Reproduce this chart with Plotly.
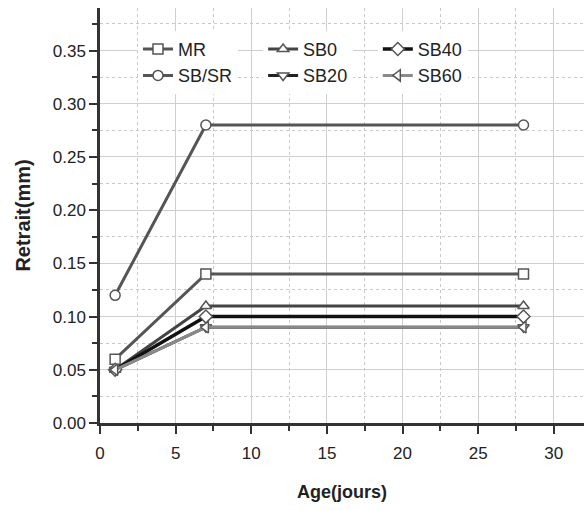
import plotly.graph_objects as go

# Age (days) and shrinkage (mm) per mix
age = [1, 7, 28]
series_names = ["MR", "SB/SR", "SB0", "SB20", "SB40", "SB60"]
mr = [0.06, 0.14, 0.14]
sb_sr = [0.12, 0.28, 0.28]
sb0 = [0.05, 0.11, 0.11]
sb20 = [0.05, 0.09, 0.09]
sb40 = [0.05, 0.10, 0.10]
sb60 = [0.05, 0.09, 0.09]

values = [mr, sb_sr, sb0, sb20, sb40, sb60]
symbols = ["square", "circle", "triangle-up",
           "triangle-down", "diamond", "triangle-left"]
colors = ["#555555", "#555555", "#444444", "#222222", "#111111", "#8a8a8a"]
widths = [3, 3, 3, 3, 3.5, 3]
# legend column for each series (two entries per column)
legend_ids = ["legend", "legend", "legend2", "legend2", "legend3", "legend3"]

fig = go.Figure()
for name, ys, sym, col, w, lg in zip(series_names, values, symbols, colors, widths, legend_ids):
    fig.add_trace(go.Scatter(
        x=age, y=ys, name=name, mode="lines+markers", legend=lg,
        line=dict(color=col, width=w),
        marker=dict(symbol=sym, size=10, color="white",
                    line=dict(width=1.5, color="#555555")),
    ))

axis_common = dict(
    showline=True, linecolor="#333333", linewidth=2.5,
    ticks="outside", ticklen=8, tickwidth=2, tickcolor="#333333",
    showgrid=True, gridcolor="#cfcfcf", gridwidth=1,
    zeroline=False, mirror=False, automargin=False,
    tickfont=dict(family="Liberation Sans Narrow, Arial", size=17, color="#222222"),
)

fig.update_xaxes(
    range=[0, 32], dtick=5, tick0=0, ticklabelstandoff=5,
    minor=dict(dtick=2.5, ticks="outside", ticklen=5, tickwidth=2, tickcolor="#333333",
               showgrid=True, gridcolor="#c8c8c8", griddash="dot", gridwidth=1),
    title=dict(text="<b>Age(jours)</b>", font=dict(family="Arial", size=18, color="#222222"),
               standoff=24),
    **axis_common,
)
fig.update_yaxes(
    range=[0, 0.39], dtick=0.05, tick0=0, tickformat=".2f",
    minor=dict(dtick=0.025, ticks="outside", ticklen=5, tickwidth=2, tickcolor="#333333",
               showgrid=True, gridcolor="#c8c8c8", griddash="dot", gridwidth=1),
    title=dict(text="<b>Retrait(mm)</b>", font=dict(family="Arial", size=20, color="#222222"),
               standoff=17),
    **axis_common,
)

legend_style = dict(
    orientation="v", y=0.945, xanchor="left", yanchor="top",
    font=dict(family="Arial", size=18, color="#222222"),
    bgcolor="white", borderwidth=0, tracegroupgap=0,
)

fig.update_layout(
    width=584, height=510,
    margin=dict(l=100, r=0, t=8, b=87),
    paper_bgcolor="white", plot_bgcolor="white",
    showlegend=True,
    legend=dict(x=0.0785, **legend_style),
    legend2=dict(x=0.337, **legend_style),
    legend3=dict(x=0.574, **legend_style),
    # white backing behind the legend block, drawn under the traces but over the grid
    shapes=[dict(type="rect", xref="paper", yref="paper", layer="between",
                 x0=0.078, x1=0.77, y0=0.80, y1=0.94,
                 fillcolor="white", line=dict(width=0))],
)

fig.write_html("out.html")
